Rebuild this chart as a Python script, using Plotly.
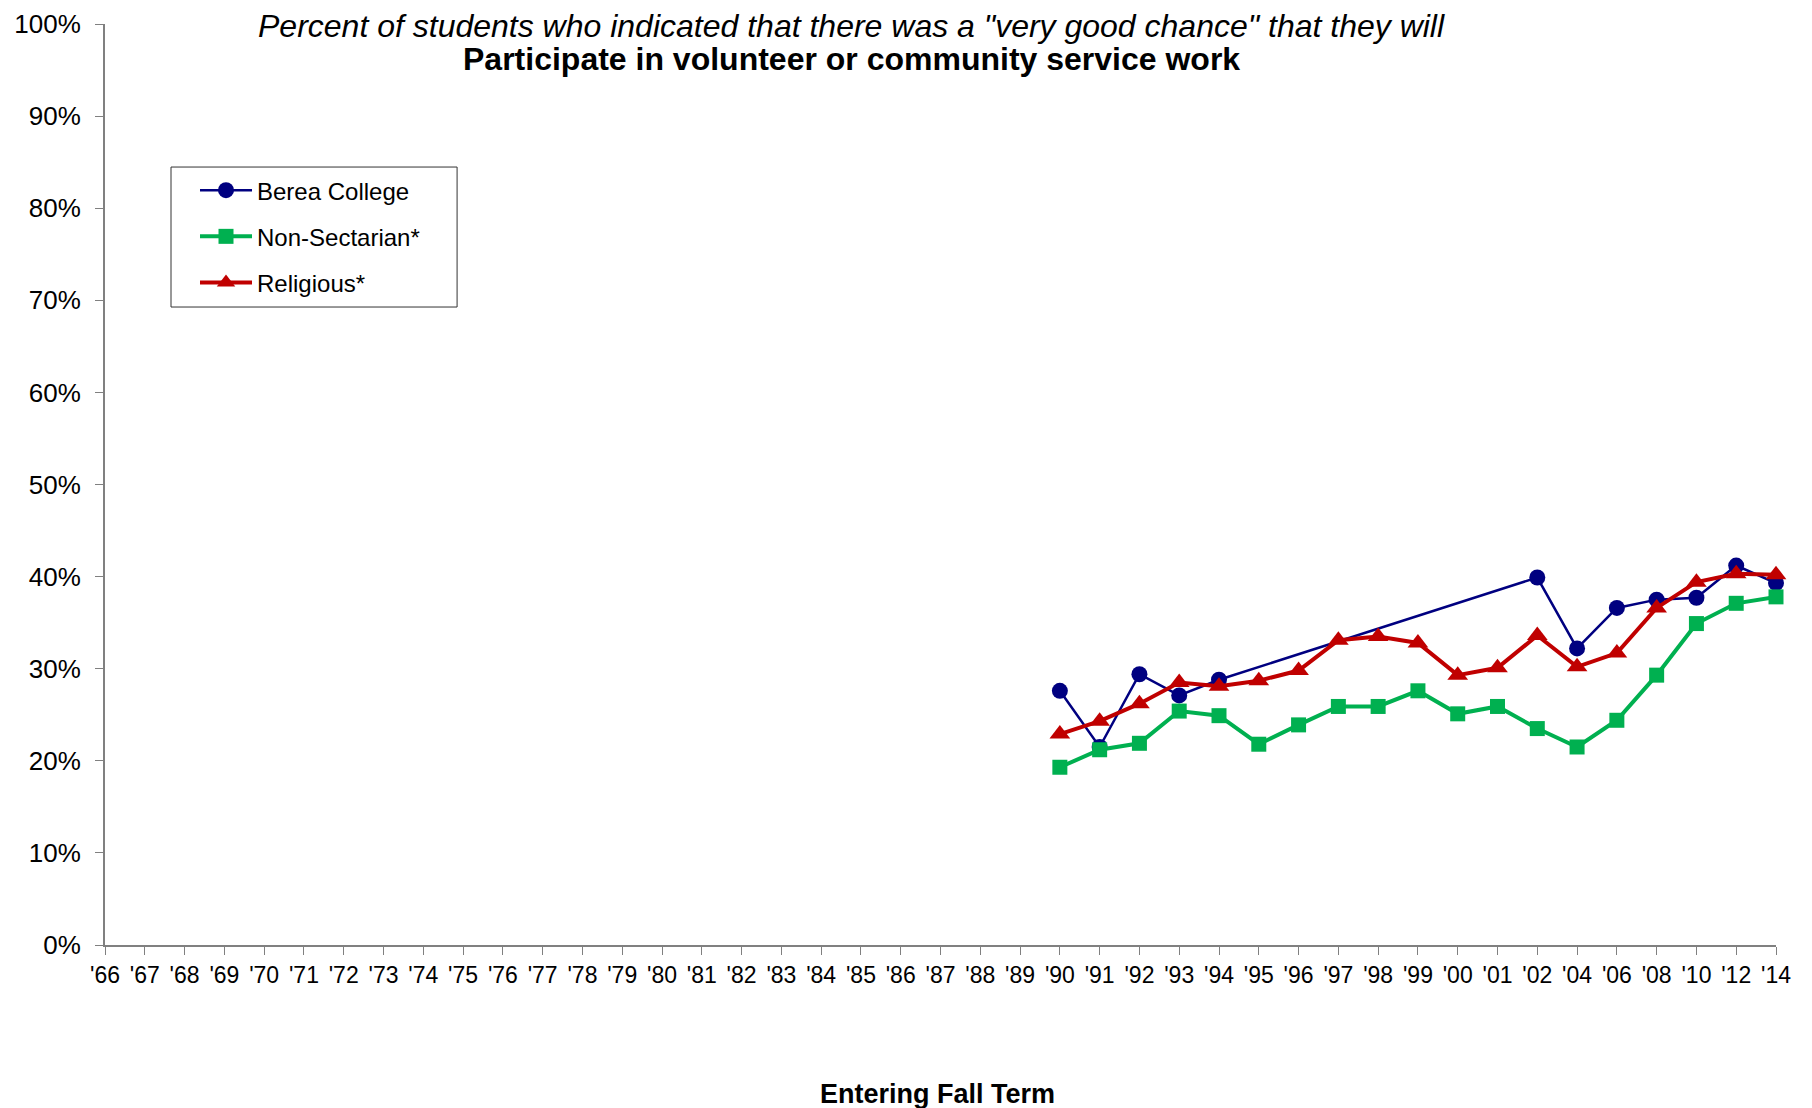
import plotly.graph_objects as go

# Entering fall term categories ('66 - '01 yearly, then every other year)
years = ["'%02d" % (y % 100) for y in range(1966, 2002)] + ["'02", "'04", "'06", "'08", "'10", "'12", "'14"]

# survey years with data
data_years = ["'90", "'91", "'92", "'93", "'94", "'95", "'96", "'97", "'98", "'99",
              "'00", "'01", "'02", "'04", "'06", "'08", "'10", "'12", "'14"]

berea = [27.6, 21.5, 29.4, 27.1, 28.8, None, None, None, None, None,
         None, None, 39.9, 32.2, 36.6, 37.5, 37.7, 41.2, 39.3]
non_sectarian = [19.3, 21.2, 21.9, 25.4, 24.9, 21.8, 23.9, 25.9, 25.9, 27.6,
                 25.1, 25.9, 23.5, 21.5, 24.4, 29.3, 34.9, 37.1, 37.8]
religious = [22.9, 24.3, 26.2, 28.5, 28.1, 28.7, 29.8, 33.1, 33.5, 32.8,
             29.3, 30.1, 33.6, 30.2, 31.7, 36.6, 39.4, 40.3, 40.2]

title_1 = "Percent of students who indicated that there was a \"very good chance\" that they will"
title_2 = "Participate in volunteer or community service work"

font = "Liberation Sans, Arial, sans-serif"

fig = go.Figure()
fig.add_trace(go.Scatter(x=data_years, y=berea, name="Berea College", mode="lines+markers",
                         connectgaps=True, legendgroup="a", cliponaxis=False,
                         line=dict(color="#000080", width=2.5),
                         marker=dict(symbol="circle", size=16, color="#000080")))
fig.add_trace(go.Scatter(x=data_years, y=non_sectarian, name="Non-Sectarian*", mode="lines+markers",
                         legendgroup="b", cliponaxis=False,
                         line=dict(color="#00B050", width=4),
                         marker=dict(symbol="square", size=15, color="#00B050")))
fig.add_trace(go.Scatter(x=data_years, y=religious, name="Religious*", mode="lines+markers",
                         legendgroup="c", cliponaxis=False,
                         line=dict(color="#C00000", width=4),
                         marker=dict(symbol="triangle-up", size=18, color="#C00000")))

# page is shown with an 8px body offset, margins compensate for it
fig.update_layout(
    width=1812, height=1108,
    margin=dict(l=97, r=44, t=16, b=171),
    paper_bgcolor="white", plot_bgcolor="white",
    font=dict(family=font, size=23, color="black"),
    legend=dict(x=0.0395, y=0.8436, xanchor="left", yanchor="top",
                borderwidth=0, bgcolor="rgba(0,0,0,0)",
                tracegroupgap=12, itemwidth=52, indentation=24, font=dict(size=24)),
    xaxis=dict(type="category", categoryorder="array", categoryarray=years,
               range=[0, len(years) - 1], showgrid=False, showline=True, automargin=False,
               linecolor="#808080", linewidth=2, ticks="outside", ticklen=8,
               tickcolor="#808080", tickangle=0, zeroline=False, tickfont=dict(size=23)),
    yaxis=dict(range=[0, 100], dtick=10, ticksuffix="%", showgrid=False, automargin=False,
               showline=True, linecolor="#808080", linewidth=2, ticks="outside",
               ticklen=8, tickcolor="#808080", zeroline=False, tickfont=dict(size=26),
               ticklabelstandoff=9),
    # legend frame
    shapes=[dict(type="rect", xref="paper", yref="paper", x0=0.0395, x1=0.2107,
                 y0=0.6927, y1=0.8447, line=dict(color="#333333", width=1))],
    annotations=[
        dict(text="<i>" + title_1 + "</i>", xref="paper", yref="paper", x=0.447, y=0.9978,
             xanchor="center", yanchor="middle", showarrow=False, font=dict(size=32)),
        dict(text="<b>" + title_2 + "</b>", xref="paper", yref="paper", x=0.447, y=0.962,
             xanchor="center", yanchor="middle", showarrow=False, font=dict(size=32)),
        dict(text="<b>Entering Fall Term</b>", xref="paper", yref="paper",
             x=0.498, y=-0.1623, xanchor="center", yanchor="middle",
             showarrow=False, font=dict(size=27)),
    ],
)

fig.write_html("out.html")
